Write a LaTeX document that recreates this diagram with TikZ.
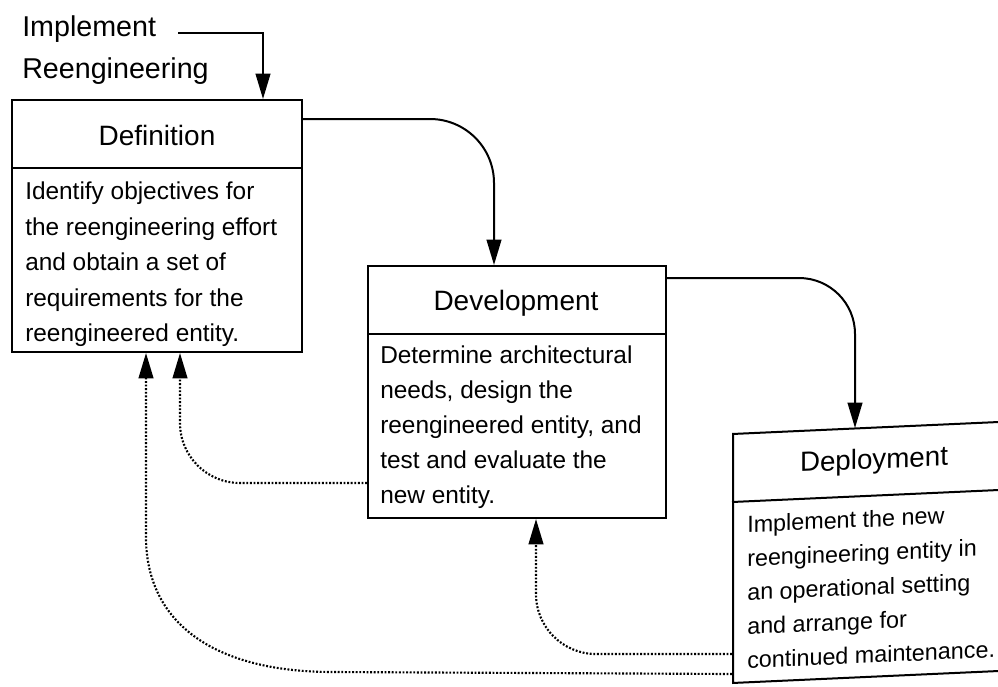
\documentclass[tikz,border=0pt]{standalone}
\usepackage{fontspec}
\setmainfont{Liberation Sans}
\usetikzlibrary{arrows.meta,calc,fit}
\begin{document}
\begin{tikzpicture}[x=0.75pt,y=-0.75pt,
  box/.style={draw, line width=1.5pt, inner sep=0pt},
  divider/.style={line width=1.5pt},
  title/.style={font=\fontsize{21}{25}\selectfont, anchor=base, inner sep=0pt},
  body/.style={font=\fontsize{18.3}{26.6}\selectfont, align=left, anchor=north west, inner sep=0pt},
  tip/.style={-{Triangle[length=19pt,width=11pt]}},
  flow/.style={line width=1.5pt, tip},
  feedback/.style={line width=1.6pt, dash pattern=on 1.4pt off 1.3pt, tip},
]
\useasboundingbox (0,0) rectangle (998,686);
\clip (0,0) rectangle (998,686);

% entry label
\node[body, font=\fontsize{21.5}{32}\selectfont] (impl) at (22,15) {Implement\\Reengineering};
\coordinate (implout) at (178,33);

% Definition
\node[box, fit={(12,100) (302,352)}] (dfn) {};
\draw[divider] (dfn.west |- 0,168) -- (dfn.east |- 0,168);
\node[title] (dfntitle) at (157,145) {Definition};
\node[body] (dfntext) at (25,182) {Identify objectives for\\the reengineering effort\\and obtain a set of\\requirements for the\\reengineered entity.};

% Development
\node[box, fit={(368,266) (666,518)}] (dev) {};
\draw[divider] (dev.west |- 0,334) -- (dev.east |- 0,334);
\node[title] (devtitle) at (516,310) {Development};
\node[body, font=\fontsize{18.3}{26.2}\selectfont] (devtext) at (380,346) {Determine architectural\\needs, design the\\reengineered entity, and\\test and evaluate the\\new entity.};

% Deployment (slightly skewed sheet)
\begin{scope}[shift={(732,433)}, yslant=0.045]
  \node[draw, line width=1.5pt, transform shape, anchor=north west, minimum width=225pt, minimum height=186.75pt, inner sep=0pt] (dep) at (0,0) {};
  \draw[divider] (0,69) -- (300,69);
  \node[title, transform shape, font=\fontsize{20.8}{25}\selectfont] (deptitle) at (142,42) {Deployment};
  \node[body, transform shape, font=\fontsize{17.5}{25.5}\selectfont] (deptext) at (15,83) {Implement the new\\reengineering entity in\\an operational setting\\and arrange for\\continued maintenance.};
\end{scope}

% forward flow
\draw[flow] (implout) -| (263,0 |- dfn.north);
\draw[flow, rounded corners=48pt] (dfn.east |- 0,119) -| (494,0 |- dev.north);
\draw[flow, rounded corners=42pt] (dev.east |- 0,278) -| (855,428);

% feedback
\draw[feedback, rounded corners=45pt] (dev.west |- 0,483) -| (180,0 |- dfn.south);
\draw[feedback, rounded corners=45pt] ($(dep.south west)+(0,-30)$) -| (536,0 |- dev.south);
\draw[feedback] ($(dep.south west)+(0,-10)$) -- (333,672) .. controls (210,672) and (146,620) .. (146,537) -- (146,0 |- dfn.south);
\end{tikzpicture}
\end{document}
